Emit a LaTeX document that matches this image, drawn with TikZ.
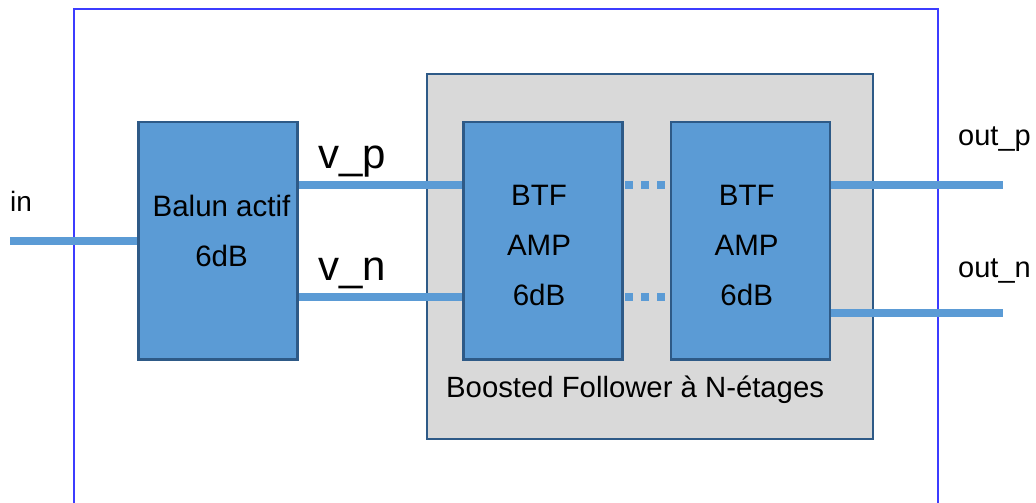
\documentclass[tikz,border=0pt]{standalone}
\usepackage{fontspec}
\setmainfont{Liberation Sans}
\usetikzlibrary{positioning}
\definecolor{blocfill}{RGB}{91,155,213}
\definecolor{blocdraw}{RGB}{46,90,135}
\definecolor{cadre}{RGB}{60,60,255}
\definecolor{grisfond}{RGB}{217,217,217}

\begin{document}
\begin{tikzpicture}[x=1pt, y=-1pt,
    bloc/.style={draw=blocdraw, line width=2.5pt, fill=blocfill, minimum width=159pt, minimum height=237.5pt},
    bloctxt/.style={align=center, inner sep=0pt, anchor=north, font=\fontsize{29.5}{50}\selectfont},
    fil/.style={draw=blocfill, line width=8pt},
    pointille/.style={fil, dash pattern=on 8pt off 8pt, dash phase=14.8pt},
    etiq/.style={anchor=base west, inner sep=0pt, font=\fontsize{28}{34}\selectfont}]

    \useasboundingbox (0,0) rectangle (1036,503);

    % Cadre du circuit (ouvert en bas)
    \draw[cadre, line width=2.2pt] (74,506) -- (74,9) -- (938,9) -- (938,506);

    % Boosted follower
    \node[draw=blocdraw, line width=2pt, fill=grisfond, minimum width=446pt, minimum height=364.5pt] (etages) at (650,256.7) {};

    % Blocs
    \node[bloc] (balun) at (218,240.7) {};
    \node[bloc] (btfa) at (543.2,240.7) {};
    \node[bloc, right=46pt of btfa] (btfb) {};

    % Texte des blocs
    \node[bloctxt] (baluntxt) at (221.5,194.5) {Balun actif\\6dB};
    \node[bloctxt] (btfatxt) at (539,185) {BTF\\AMP\\6dB};
    \node[bloctxt, xshift=-4pt] (btfbtxt) at (btfb.center |- btfatxt.north) {BTF\\AMP\\6dB};

    % Etiquettes
    \node[etiq] (lin) at (10,211) {in};
    \node[etiq, font=\fontsize{42}{50}\selectfont] (lvp) at (318,168) {v\_p};
    \node[etiq, font=\fontsize{42}{50}\selectfont] (lvn) at (318,280) {v\_n};
    \node[etiq, font=\fontsize{29}{35}\selectfont] (loutp) at (958,145.7) {out\_p};
    \node[etiq, font=\fontsize{29}{35}\selectfont] (loutn) at (958,277.7) {out\_n};
    \node[etiq, font=\fontsize{29.3}{35}\selectfont] (letages) at (446,397.7) {Boosted Follower à N-étages};

    % Liaisons
    \coordinate (entree) at (10,240.7);
    \coordinate (sortiep) at (1002.5,184.5);
    \coordinate (sortien) at (1002.5,313);
    \draw[fil] (entree) -- (balun.west);
    \draw[fil] ([yshift=56pt]balun.east) -- ([yshift=56pt]btfa.west);
    \draw[fil] ([yshift=-56pt]balun.east) -- ([yshift=-56pt]btfa.west);
    \draw[fil] (btfb.east |- sortiep) -- (sortiep);
    \draw[fil] (btfb.east |- sortien) -- (sortien);
    \draw[pointille] ([yshift=56pt]btfa.east) -- ([yshift=56pt]btfb.west);
    \draw[pointille] ([yshift=-56pt]btfa.east) -- ([yshift=-56pt]btfb.west);

\end{tikzpicture}
\end{document}
